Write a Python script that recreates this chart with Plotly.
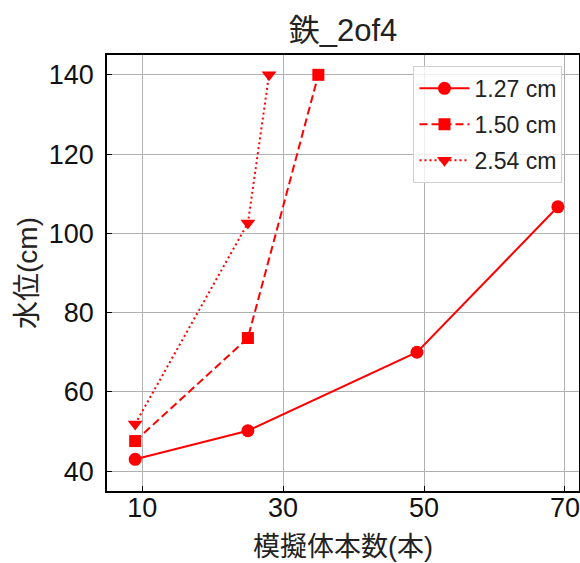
import plotly.graph_objects as go

series_names = ["1.27 cm", "1.50 cm", "2.54 cm"]
x_127 = [9, 25, 49, 69]
y_127 = [43.0, 50.2, 70.0, 106.7]
x_150 = [9, 25, 35]
y_150 = [47.6, 73.6, 140.0]
x_254 = [9, 25, 28]
y_254 = [51.9, 102.6, 140.0]
x_ticks = [10, 30, 50, 70]
y_ticks = [40, 60, 80, 100, 120, 140]

FONT = "Liberation Sans, Arial, Noto Sans CJK JP, sans-serif"
red = "#ff0000"

fig = go.Figure()
fig.add_trace(go.Scatter(x=x_127, y=y_127, name=series_names[0], mode="lines+markers",
                         legendgroup="a",
                         line=dict(color=red, width=2, dash="solid"),
                         marker=dict(symbol="circle", size=13, color=red)))
fig.add_trace(go.Scatter(x=x_150, y=y_150, name=series_names[1], mode="lines+markers",
                         legendgroup="b",
                         line=dict(color=red, width=2, dash="8px,4px"),
                         marker=dict(symbol="square", size=12, color=red)))
fig.add_trace(go.Scatter(x=x_254, y=y_254, name=series_names[2], mode="lines+markers",
                         legendgroup="c",
                         line=dict(color=red, width=2, dash="2px,3px"),
                         marker=dict(symbol="triangle-down", size=13, color=red)))

axis_common = dict(showline=True, linecolor="black", linewidth=1.5, mirror=True,
                   ticks="inside", ticklen=5, tickcolor="black", automargin=False,
                   showgrid=True, gridcolor="#b0b0b0", gridwidth=1, zeroline=False,
                   tickfont=dict(family=FONT, size=27, color="#111111"))

fig.update_layout(
    width=580, height=563,
    margin=dict(l=107, r=1, t=55, b=72),
    paper_bgcolor="white", plot_bgcolor="white",
    font=dict(family=FONT, color="black"),
    title=dict(text="鉄_2of4", x=0.5, xanchor="center", xref="paper",
               y=1 - 30 / 563, yanchor="middle", yref="container",
               font=dict(family=FONT, size=31, color="#222222")),
    xaxis=dict(range=[5, 72], tickvals=x_ticks, ticklabelstandoff=-8, **axis_common),
    yaxis=dict(range=[35, 145], tickvals=y_ticks, ticklabelstandoff=6, **axis_common),
    legend=dict(x=0.965, y=0.975, xanchor="right", yanchor="top",
                bgcolor="rgba(255,255,255,0.8)", bordercolor="#d0d0d0", borderwidth=1,
                font=dict(family=FONT, size=23, color="#222222"),
                itemwidth=50, tracegroupgap=3, entrywidth=172),
    showlegend=True,
    annotations=[
        dict(text="模擬体本数(本)", xref="paper", yref="paper",
             x=0.5, y=-(547 - 491) / 436, xanchor="center", yanchor="middle",
             showarrow=False, font=dict(family=FONT, size=27, color="#222222")),
        dict(text="水位(cm)", xref="paper", yref="paper", textangle=-90,
             x=-(107 - 27) / 472, y=0.5, xanchor="center", yanchor="middle",
             showarrow=False, font=dict(family=FONT, size=28, color="#222222")),
    ],
)

fig.write_html("out.html", config={"displayModeBar": False},
               post_script="document.body.style.margin='0px';")
